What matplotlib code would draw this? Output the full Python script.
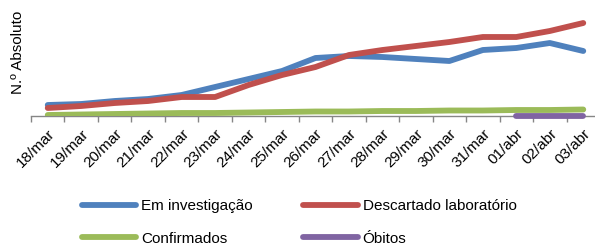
import matplotlib
matplotlib.use("Agg")
import matplotlib.pyplot as plt
import numpy as np

plt.rcParams['font.family'] = ['Liberation Sans', 'DejaVu Sans']

dates = ["18/mar", "19/mar", "20/mar", "21/mar", "22/mar", "23/mar", "24/mar", "25/mar",
         "26/mar", "27/mar", "28/mar", "29/mar", "30/mar", "31/mar", "01/abr", "02/abr", "03/abr"]
em_investigacao = [11, 12, 15, 17, 21, 29, 37, 45, 58, 60, 59, 57, 55, 66, 68, 73, 65]
descartado = [8, 10, 13, 15, 19, 19, 31, 41, 49, 61, 66, 70, 74, 79, 79, 85, 93]
confirmados = [1, 1.5, 2, 2.5, 3, 3, 3.5, 4, 4.5, 4.5, 5, 5, 5.5, 5.5, 6, 6, 6.5]
obitos = [None] * 14 + [0, 0, 0]

colors = {"blue": "#4F81BD", "red": "#C0504D", "green": "#9BBB59", "purple": "#8064A2"}
FS = 11

fig = plt.figure(figsize=(5.95, 2.49), dpi=100)
ax = fig.add_axes([31/595, 1 - 116/249, 569/595, 111/249])

x = np.arange(len(dates))
lw = 4.2
obitos_arr = np.array([np.nan if v is None else v for v in obitos], dtype=float)
kw = dict(lw=lw, solid_capstyle='round', solid_joinstyle='round')
l1, = ax.plot(x, em_investigacao, color=colors["blue"], label="Em investigação", zorder=3, **kw)
l2, = ax.plot(x, descartado, color=colors["red"], label="Descartado laboratório", zorder=3, **kw)
l3, = ax.plot(x, confirmados, color=colors["green"], label="Confirmados", zorder=3, **kw)
l4, = ax.plot(x, obitos_arr, color=colors["purple"], label="Óbitos", zorder=4, clip_on=False, **kw)

ax.set_xlim(-0.5, len(dates) - 0.5)
ax.set_ylim(0, 111)
ax.set_xticks(x)
ax.set_xticklabels(dates, rotation=45, ha='right', rotation_mode='anchor', fontsize=FS)
ax.set_xticks(np.arange(-0.5, len(dates), 1), minor=True)
ax.tick_params(axis='x', which='major', length=0, pad=8)
ax.tick_params(axis='x', which='minor', length=4, color='#868686', width=1)
ax.set_yticks([])
for s in ['left', 'right', 'top']:
    ax.spines[s].set_visible(False)
ax.spines['bottom'].set_color('#868686')
ax.spines['bottom'].set_linewidth(1)
ax.set_ylabel("N.º Absoluto", fontsize=FS)
ax.yaxis.set_label_coords(-0.0105, 0.572)

fig.legend(handles=[l1, l3, l2, l4], loc='upper left', bbox_to_anchor=(82/595, 1 - 199/249),
           ncol=2, frameon=False, fontsize=FS, handlelength=3.55, handletextpad=0.33,
           columnspacing=3.3, labelspacing=1.22, borderpad=0, borderaxespad=0)

fig.savefig("out.png", dpi=100)
